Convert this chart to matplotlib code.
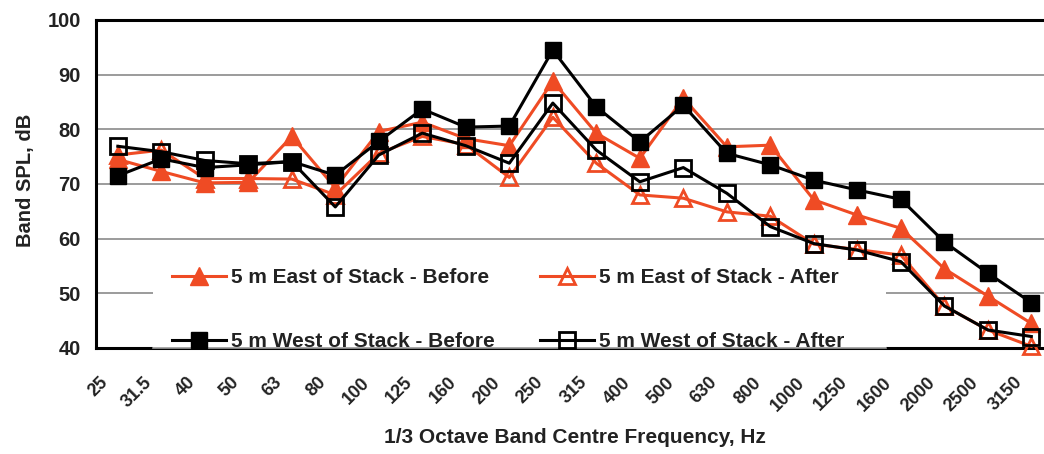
import matplotlib
matplotlib.use('Agg')
import matplotlib.pyplot as plt
from matplotlib.patches import Rectangle
from matplotlib.transforms import ScaledTranslation
import numpy as np

# 1/3 octave band centre frequencies (Hz)
freqs = ['25', '31.5', '40', '50', '63', '80', '100', '125', '160', '200', '250',
         '315', '400', '500', '630', '800', '1000', '1250', '1600', '2000', '2500', '3150']

# band SPL, dB
east_before = [74.5, 72.3, 70.2, 70.3, 78.7, 69.3, 79.6, 81.3, 78.3, 77.0, 88.8,
               79.3, 74.7, 85.7, 76.8, 77.1, 67.1, 64.3, 61.9, 54.5, 49.5, 44.5]
east_after = [75.3, 76.2, 71.0, 71.0, 70.9, 68.0, 75.6, 78.7, 77.2, 71.2, 82.2,
              73.8, 68.0, 67.4, 64.9, 64.1, 59.0, 58.0, 57.0, 47.7, 43.3, 40.3]
west_before = [71.5, 74.6, 73.0, 73.5, 74.1, 71.6, 77.8, 83.7, 80.4, 80.6, 94.5,
               84.1, 77.7, 84.4, 75.6, 73.5, 70.7, 68.9, 67.2, 59.4, 53.7, 48.3]
west_after = [76.9, 75.9, 74.3, 73.7, 74.1, 65.8, 75.3, 79.3, 77.0, 73.8, 84.8,
              76.2, 70.4, 73.0, 68.3, 62.2, 59.1, 57.9, 55.8, 47.7, 43.3, 42.1]

red = '#EF4B24'
txt = '#222222'
plt.rcParams['font.family'] = ['Liberation Sans', 'DejaVu Sans']
plt.rcParams['font.weight'] = 'bold'

fig = plt.figure(figsize=(10.44, 4.54), dpi=100)
# axes run a little past the right edge, like the cropped original
ax = fig.add_axes([0.092, 0.2335, 0.9167, 0.7225])

x = np.arange(len(freqs))
lw = 2.2
ax.plot(x, east_before, color=red, lw=lw, marker='^', ms=13,
        mfc=red, mec=red, label='5 m East of Stack - Before', clip_on=False, zorder=3)
ax.plot(x, east_after, color=red, lw=lw, marker='^', ms=11, mew=2.0,
        mfc='none', mec=red, label='5 m East of Stack - After', clip_on=False, zorder=3)
ax.plot(x, west_before, color='black', lw=lw, marker='s', ms=12,
        mfc='black', mec='black', label='5 m West of Stack - Before', clip_on=False, zorder=4)
ax.plot(x, west_after, color='black', lw=lw, marker='s', ms=11, mew=2.0,
        mfc='none', mec='black', label='5 m West of Stack - After', clip_on=False, zorder=4)

ax.set_xlim(-0.5, len(freqs) - 0.5)
ax.set_ylim(40, 100)
ax.set_yticks(np.arange(40, 101, 10))
ax.yaxis.grid(True, color='#8a8a8a', lw=1.2)
ax.set_axisbelow(True)
for side in ['left', 'top', 'bottom', 'right']:
    ax.spines[side].set_linewidth(2.2)
    ax.spines[side].set_color('black')

ax.tick_params(axis='y', length=0, pad=11, labelsize=14.5, labelcolor=txt)
ax.tick_params(axis='x', length=0, pad=23, labelsize=13, labelcolor=txt)
ax.set_xticks(x)
ax.set_xticklabels(freqs, rotation=45, ha='right', va='center', rotation_mode='anchor')
for lab in ax.get_xticklabels():
    lab.set_transform(lab.get_transform() + ScaledTranslation(-0.12, 0, fig.dpi_scale_trans))

ax.set_ylabel('Band SPL, dB', fontsize=14.5, fontweight='bold', color=txt)
ax.yaxis.set_label_coords(-0.064, 0.51)
ax.set_xlabel('1/3 Octave Band Centre Frequency, Hz', fontsize=15, fontweight='bold', color=txt)
ax.xaxis.set_label_coords(0.5, -0.244)

# white box behind the legend, it hides the grid and the axis line (data stays on top)
box_x0, box_x1, box_top = 0.0596, 0.8255, 0.29
ax.add_patch(Rectangle((box_x0, 0), box_x1 - box_x0, box_top, transform=ax.transAxes,
                       facecolor='white', edgecolor='none', zorder=2.6, clip_on=False))
ax.plot([box_x0, box_x1], [0, 0], transform=ax.transAxes, color='#999999',
        lw=1.2, zorder=2.7, clip_on=False)

# legend: two columns
h, l = ax.get_legend_handles_labels()
order = [0, 2, 1, 3]
leg = ax.legend([h[i] for i in order], [l[i] for i in order], ncol=2,
                loc='lower left', bbox_to_anchor=(0.0794, -0.009), borderaxespad=0,
                frameon=False, labelspacing=2.15, columnspacing=2.15,
                handlelength=2.6, handletextpad=0.25, borderpad=0,
                prop={'weight': 'bold', 'size': 15})
for t in leg.get_texts():
    t.set_color(txt)
leg.set_zorder(6)

fig.savefig('out.png', dpi=100)
